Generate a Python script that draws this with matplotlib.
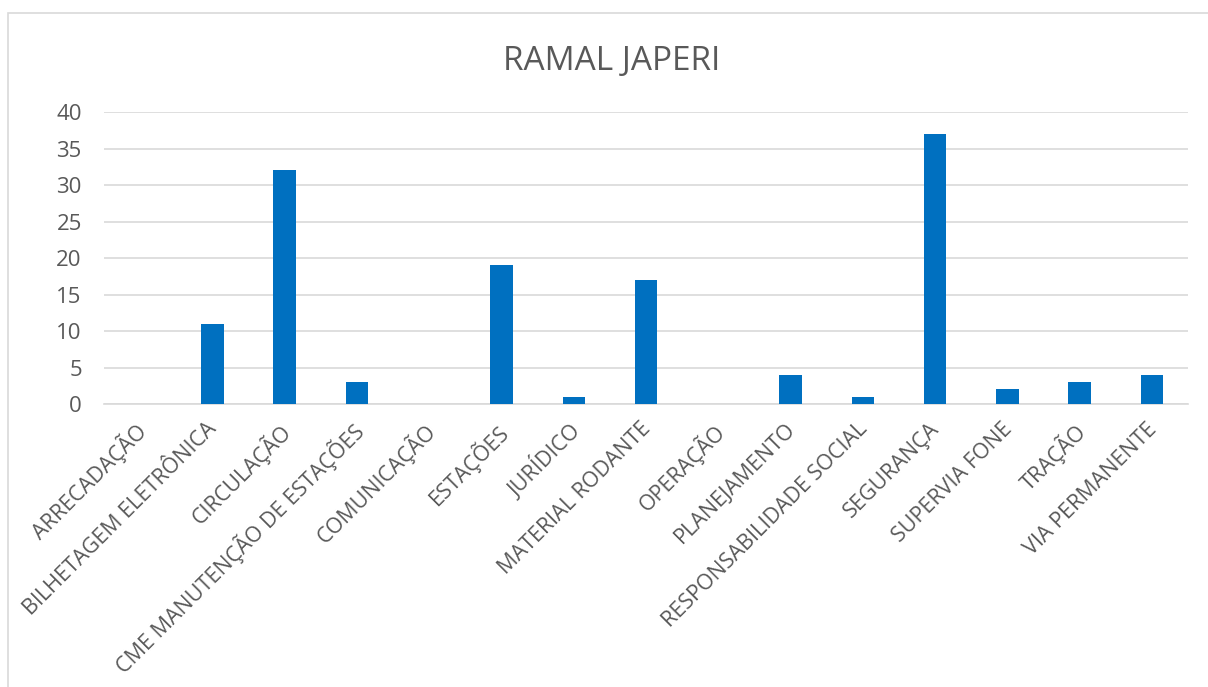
import matplotlib.pyplot as plt
import matplotlib.transforms as mtransforms
from matplotlib.patches import Rectangle

# dados do gráfico
categorias = [
    "ARRECADAÇÃO", "BILHETAGEM ELETRÔNICA", "CIRCULAÇÃO",
    "CME MANUTENÇÃO DE ESTAÇÕES", "COMUNICAÇÃO", "ESTAÇÕES", "JURÍDICO",
    "MATERIAL RODANTE", "OPERAÇÃO", "PLANEJAMENTO",
    "RESPONSABILIDADE SOCIAL", "SEGURANÇA", "SUPERVIA FONE", "TRAÇÃO",
    "VIA PERMANENTE",
]
valores = [0, 11, 32, 3, 0, 19, 1, 17, 0, 4, 1, 37, 2, 3, 4]
y_ticks = [0, 5, 10, 15, 20, 25, 30, 35, 40]

plt.rcParams['font.family'] = ['Open Sans', 'DejaVu Sans']

W, H = 1208, 687
fig = plt.figure(figsize=(W / 100, H / 100), dpi=100)

# moldura do gráfico
fig.patches.append(Rectangle((8 / W, -0.1), 1.2, 1 - 13 / H + 0.1,
                             transform=fig.transFigure, fill=False,
                             edgecolor='#D9D9D9', linewidth=1.2))

ax = fig.add_axes([104 / W, 1 - 404 / H, (1188 - 104) / W, (404 - 112) / H])

x = range(len(categorias))
ax.bar(x, valores, width=0.31, color='#0070C0', zorder=3)

ax.set_xlim(-0.5, len(categorias) - 0.5)
ax.set_ylim(0, 40)
ax.set_yticks(y_ticks)
ax.yaxis.grid(True, color='#D9D9D9', linewidth=1.2, zorder=0)
ax.set_axisbelow(True)

for s in ['top', 'right', 'left']:
    ax.spines[s].set_visible(False)
ax.spines['bottom'].set_color('#D9D9D9')
ax.spines['bottom'].set_linewidth(1.2)

ax.tick_params(axis='both', length=0, colors='#595959')
ax.tick_params(axis='y', pad=16, labelsize=16)
ax.tick_params(axis='x', pad=12, labelsize=15.5)
ax.set_xticks(list(x))
ax.set_xticklabels(categorias, rotation=45, ha='right', rotation_mode='anchor')

# desloca um pouco os rótulos para a esquerda
offset = mtransforms.ScaledTranslation(-6 / 100, 2 / 100, fig.dpi_scale_trans)
for lbl in ax.get_xticklabels():
    lbl.set_transform(lbl.get_transform() + offset)

fig.text(612 / W, 1 - 61 / H, "RAMAL JAPERI", ha='center', va='center',
         fontsize=24, color='#595959')

fig.savefig('out.png', dpi=100)
